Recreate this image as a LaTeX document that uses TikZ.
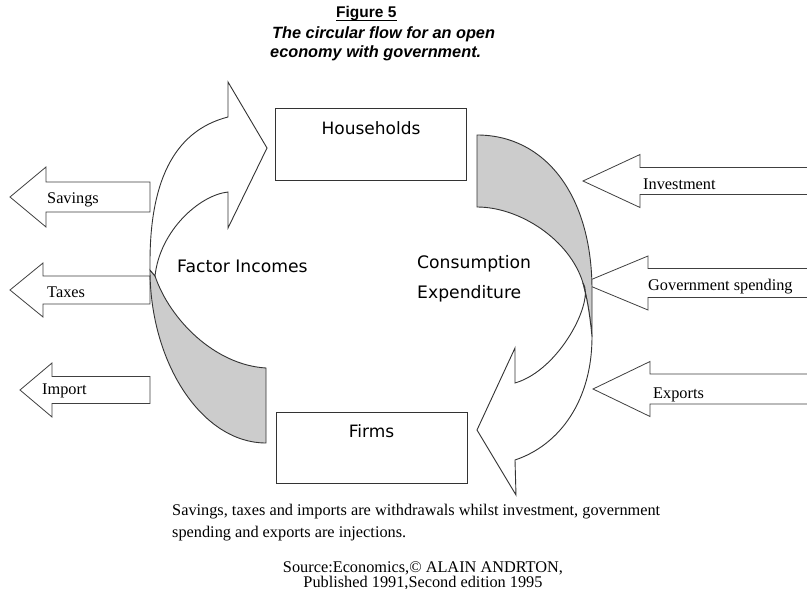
\documentclass[tikz,border=0pt]{standalone}
\usepackage{fontspec}
\setmainfont{Liberation Serif}
\newfontfamily\flowfont{DejaVu Sans}
\newfontfamily\headfont{Liberation Sans}
\usepackage{tikz}

% left-pointing block arrow: tip x, axis y, head base x, head half width, shaft half width, tail x
\newcommand{\flowarrow}[6]{%
  \draw[blk] (#1,#2) -- (#3,#2-#4) -- (#3,#2-#5) -- (#6,#2-#5)
    -- (#6,#2+#5) -- (#3,#2+#5) -- (#3,#2+#4) -- cycle;}

\begin{document}
\begin{tikzpicture}[x=1pt,y=-1pt]
\tikzset{
 blk/.style={draw=black!75,line width=0.8pt,fill=white,line join=miter},
 back/.style={draw=black!80,line width=0.9pt,fill=black!20},
 front/.style={draw=black!80,line width=0.9pt,fill=white},
 unit/.style={draw=black!80,line width=0.9pt,inner sep=0pt,minimum width=191pt,
   font=\flowfont\fontsize{17}{20}\selectfont},
 flow/.style={inner sep=0pt,font=\flowfont\fontsize{17.2}{20}\selectfont},
 side/.style={inner sep=0pt,font=\fontsize{16.3}{19}\selectfont},
 note/.style={inner sep=0pt,font=\fontsize{16.3}{19}\selectfont},
 head/.style={inner sep=0pt,font=\headfont\bfseries\fontsize{15.5}{19}\selectfont},
 headit/.style={inner sep=0pt,font=\headfont\bfseries\itshape\fontsize{16.3}{19}\selectfont}
}
\clip (0,0) rectangle (807,589);
\fill[white] (0,0) rectangle (807,589);

% title
\node[head,anchor=base west] (fig) at (336,17) {Figure 5};
\draw[line width=0.8pt] ([yshift=-3pt]fig.base west) -- ([yshift=-3pt]fig.base east);
\node[headit,anchor=base west] (ttl1) at (272,38) {The circular flow for an open};
\node[headit,anchor=base west] (ttl2) at (270,57) {economy with government.};

% sectors
\node[unit,text height=26pt,text depth=46pt,anchor=base] (hh) at (371,134) {Households};
\node[unit,text height=25pt,text depth=46pt,anchor=base] (firms) at (371.5,437) {Firms};

% withdrawals
\flowarrow{10}{197}{46}{30}{15}{150}
\flowarrow{10}{290}{43}{27}{14}{150}
\flowarrow{20}{390}{52}{27}{13.5}{150}
\node[side,anchor=base west] (sav) at (47,203) {Savings};
\node[side,anchor=base west] (tax) at (47,297) {Taxes};
\node[side,anchor=base west] (imp) at (42,394) {Import};

% injections
\flowarrow{583}{181}{640}{26.5}{13.5}{812}
\flowarrow{583}{283}{648}{27}{14.5}{812}
\flowarrow{593}{389}{650}{27.5}{15}{812}
\node[side,anchor=base west] (inv) at (643,189) {Investment};
\node[side,anchor=base west] (gov) at (648,290) {Government spending};
\node[side,anchor=base west] (exp) at (653,398) {Exports};

% factor incomes: firms -> households
\draw[back] (266,368) -- (266,443) .. controls (202,443) and (150,363) .. (150,270)
  -- (155,276) .. controls (170,320) and (215,365) .. (266,368) -- cycle;
\draw[front] (155,276) .. controls (160,230) and (200,195) .. (228,192) -- (228,228)
  -- (267,148) -- (228,82) -- (228,117) .. controls (185,128) and (150,165) .. (150,262)
  -- (150,270) -- cycle;
\node[flow,anchor=base west] (fi) at (177,272) {Factor Incomes};

% consumption expenditure: households -> firms
\draw[back] (477,135) .. controls (545,135) and (592,195) .. (592,290) -- (592,337)
  .. controls (590,315) and (587,298) .. (583,283) .. controls (570,240) and (520,207) .. (477,207) -- cycle;
\draw[front] (583,283) .. controls (595,300) and (560,370) .. (515,383) -- (515,348)
  -- (477,430) -- (516,495) -- (515,460) .. controls (560,445) and (592,400) .. (592,337)
  .. controls (590,315) and (587,298) .. (583,283) -- cycle;
\node[flow,anchor=base west] (ce1) at (417,268) {Consumption};
\node[flow,anchor=base west] (ce2) at (417,298) {Expenditure};

% notes
\node[note,anchor=base west] (nt1) at (172,515) {Savings, taxes and imports are withdrawals whilst investment, government};
\node[note,anchor=base west] (nt2) at (172,537) {spending and exports are injections.};
\node[note,anchor=base] (src1) at (423,572) {Source:Economics,© ALAIN ANDRTON,};
\node[note,anchor=base] (src2) at (423,587) {Published 1991,Second edition 1995};
\end{tikzpicture}
\end{document}
